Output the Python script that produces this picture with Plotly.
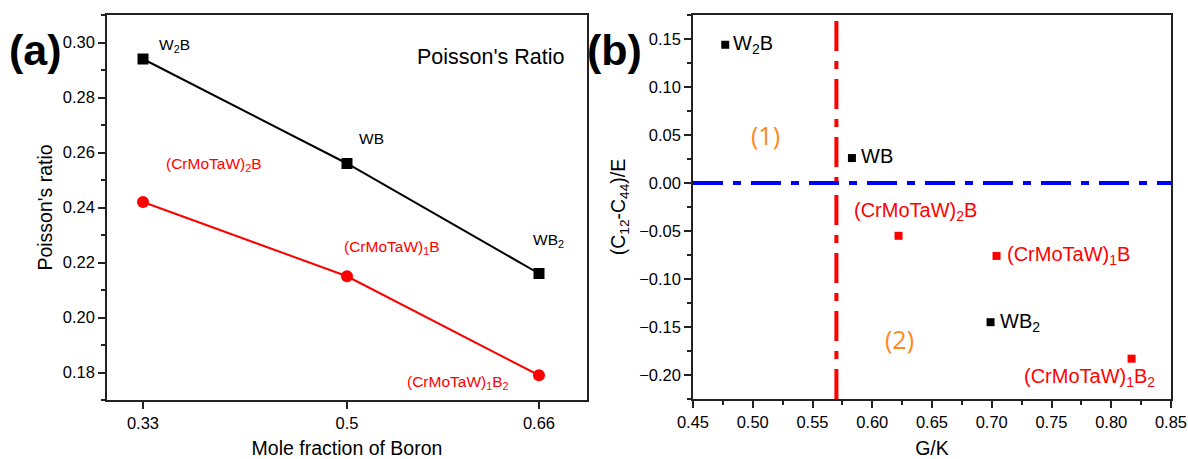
import plotly.graph_objects as go

# ---------- data ----------
boron_fraction = [0.33, 0.5, 0.66]
boron_ticktext = ["0.33", "0.5", "0.66"]
binary_names = ["W<sub>2</sub>B", "WB", "WB<sub>2</sub>"]
binary_poisson = [0.294, 0.256, 0.216]
hea_names = ["(CrMoTaW)<sub>2</sub>B", "(CrMoTaW)<sub>1</sub>B", "(CrMoTaW)<sub>1</sub>B<sub>2</sub>"]
hea_poisson = [0.242, 0.215, 0.179]

binary_gk = [0.477, 0.583, 0.699]
binary_cauchy = [0.144, 0.026, -0.145]
hea_gk = [0.622, 0.704, 0.817]
hea_cauchy = [-0.055, -0.076, -0.183]

gk_threshold = 0.57
cauchy_threshold = 0.0

FONT = "Arial, Liberation Sans, sans-serif"
RED = "#FF0000"
ORANGE = "#FF8A1C"
AX = "#222222"

fig = go.Figure()

# ---------- panel (a) ----------
fig.add_trace(go.Scatter(x=boron_fraction, y=binary_poisson, mode="lines+markers",
                         line=dict(color="black", width=2),
                         marker=dict(symbol="square", size=11, color="black"),
                         xaxis="x", yaxis="y", showlegend=False))
fig.add_trace(go.Scatter(x=boron_fraction, y=hea_poisson, mode="lines+markers",
                         line=dict(color=RED, width=2),
                         marker=dict(symbol="circle", size=12, color=RED),
                         xaxis="x", yaxis="y", showlegend=False))

# ---------- panel (b) ----------
fig.add_trace(go.Scatter(x=binary_gk, y=binary_cauchy, mode="markers",
                         marker=dict(symbol="square", size=8, color="black"),
                         xaxis="x2", yaxis="y2", showlegend=False))
fig.add_trace(go.Scatter(x=hea_gk, y=hea_cauchy, mode="markers",
                         marker=dict(symbol="square", size=8, color=RED),
                         xaxis="x2", yaxis="y2", showlegend=False))

fig.add_shape(type="line", xref="x2", yref="y2 domain", x0=gk_threshold, x1=gk_threshold, y0=0, y1=1,
              line=dict(color=RED, width=4, dash="30px,10px,8px,10px"))
fig.add_shape(type="line", xref="x2 domain", yref="y2", x0=0, x1=1, y0=cauchy_threshold, y1=cauchy_threshold,
              line=dict(color="#0000FF", width=4, dash="30px,10px,8px,10px"))

ann = []
# panel (a) labels: (xshift, yshift, anchor)
a_bin = [(14, 14, "left"), (10, 25, "left"), (9, 33, "center")]
a_hea = [(21, 38, "left"), (-5, 29, "left"), (-28, -7, "right")]
for n, xv, yv, (dx, dy, xa) in zip(binary_names, boron_fraction, binary_poisson, a_bin):
    ann.append(dict(x=xv, y=yv, xref="x", yref="y", text=n, showarrow=False, xanchor=xa,
                    xshift=dx, yshift=dy, font=dict(size=15.5, color="black", family=FONT)))
for n, xv, yv, (dx, dy, xa) in zip(hea_names, boron_fraction, hea_poisson, a_hea):
    ann.append(dict(x=xv, y=yv, xref="x", yref="y", text=n, showarrow=False, xanchor=xa,
                    xshift=dx, yshift=dy, font=dict(size=15.5, color=RED, family=FONT)))

# panel (b) labels
b_bin = [(6, 0, "left"), (7, 2, "left"), (7, 0, "left")]
b_hea = [(17, 24, "center"), (8, 0, "left"), (-42, -19, "center")]
for n, xv, yv, (dx, dy, xa) in zip(binary_names, binary_gk, binary_cauchy, b_bin):
    ann.append(dict(x=xv, y=yv, xref="x2", yref="y2", text=n, showarrow=False, xanchor=xa,
                    xshift=dx, yshift=dy, font=dict(size=20, color="black", family=FONT)))
for n, xv, yv, (dx, dy, xa) in zip(hea_names, hea_gk, hea_cauchy, b_hea):
    ann.append(dict(x=xv, y=yv, xref="x2", yref="y2", text=n, showarrow=False, xanchor=xa,
                    xshift=dx, yshift=dy, font=dict(size=20, color=RED, family=FONT)))

ann += [
    dict(x=0.511, y=0.05, xref="x2", yref="y2", text="(1)", showarrow=False,
         font=dict(size=25, color=ORANGE, family="Open Sans")),
    dict(x=0.623, y=-0.163, xref="x2", yref="y2", text="(2)", showarrow=False,
         font=dict(size=25, color=ORANGE, family="Open Sans")),
    dict(x=0.958, y=0.927, xref="x domain", yref="y domain", text="Poisson's Ratio", showarrow=False,
         xanchor="right", font=dict(size=21.5, color="black", family=FONT)),
    dict(x=35 / 1188, y=1 - 50 / 459, xref="paper", yref="paper", text="<b>(a)</b>", showarrow=False,
         xanchor="center", yanchor="middle", font=dict(size=43, color="black", family=FONT)),
    dict(x=614 / 1188, y=1 - 50 / 459, xref="paper", yref="paper", text="<b>(b)</b>", showarrow=False,
         xanchor="center", yanchor="middle", font=dict(size=43, color="black", family=FONT)),
]

axis_common = dict(showline=True, linecolor=AX, linewidth=1.5, mirror=True, ticks="outside",
                   ticklen=7, tickwidth=1.5, tickcolor=AX, showgrid=False, zeroline=False,
                   automargin=False,
                   tickfont=dict(size=16.5, color="black", family=FONT))
TITLE_FONT = dict(size=19.5, family=FONT, color="black")

fig.update_layout(
    width=1188, height=459, margin=dict(l=0, r=0, t=0, b=0, autoexpand=False),
    paper_bgcolor="white", plot_bgcolor="white", showlegend=False,
    annotations=ann,
    xaxis=dict(axis_common, domain=[107 / 1188, 587 / 1188], range=[0.30, 0.70],
               tickvals=boron_fraction, ticktext=boron_ticktext, anchor="y",
               title=dict(text="Mole fraction of Boron", font=TITLE_FONT, standoff=14)),
    yaxis=dict(axis_common, domain=[1 - 400 / 459, 1 - 15 / 459], range=[0.17, 0.31],
               dtick=0.02, tick0=0, tickformat=".2f", anchor="x",
               minor=dict(dtick=0.01, ticks="outside", ticklen=4, tickcolor=AX, tickwidth=1.5),
               title=dict(text="Poisson's ratio", font=TITLE_FONT, standoff=5)),
    xaxis2=dict(axis_common, domain=[693 / 1188, 1171 / 1188], range=[0.45, 0.85],
                dtick=0.05, tick0=0, tickformat=".2f", anchor="y2",
                minor=dict(dtick=0.025, ticks="outside", ticklen=4, tickcolor=AX, tickwidth=1.5),
                title=dict(text="G/K", font=TITLE_FONT, standoff=14)),
    yaxis2=dict(axis_common, domain=[1 - 399 / 459, 1 - 15 / 459], range=[-0.225, 0.175],
                dtick=0.05, tick0=0, tickformat=".2f", anchor="x2",
                minor=dict(dtick=0.025, ticks="outside", ticklen=4, tickcolor=AX, tickwidth=1.5),
                title=dict(text="(C<sub>12</sub>-C<sub>44</sub>)/E", font=TITLE_FONT, standoff=8)),
)

fig.write_html("out.html")
